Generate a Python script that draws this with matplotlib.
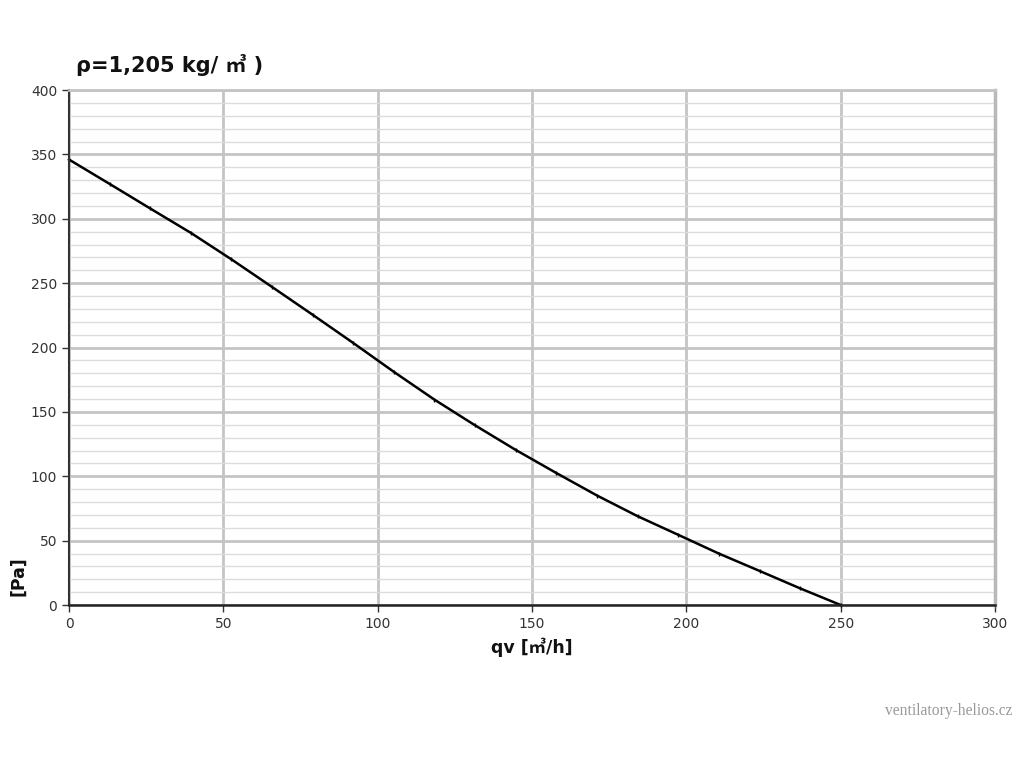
import numpy as np
import matplotlib.pyplot as plt
from matplotlib.ticker import MultipleLocator

# Fan curve (points at the small marks on the line)
qv = [0, 13.2, 26.3, 39.5, 52.6, 65.8, 78.9, 92.1, 105.3, 118.4,
      131.6, 144.7, 157.9, 171.1, 184.2, 197.4, 210.5, 223.7, 236.8, 250]
pa = [346, 327, 308, 289, 268.5, 247, 225.5, 203.5, 181, 159.5,
      139.5, 120.5, 102.5, 85, 69, 54.5, 40, 26.5, 13, 0]

x_ticks = [0, 50, 100, 150, 200, 250, 300]
y_ticks = [0, 50, 100, 150, 200, 250, 300, 350, 400]

fig = plt.figure(figsize=(10.24, 7.68), dpi=100)
ax = fig.add_axes([0.0674, 0.2122, 0.9043, 0.6706])

# Grid
ax.set_xlim(0, 300)
ax.set_ylim(0, 400)
ax.set_xticks(x_ticks)
ax.set_yticks(y_ticks)
ax.yaxis.set_minor_locator(MultipleLocator(10))
ax.grid(which='major', color='#c4c4c4', linewidth=2)
ax.grid(which='minor', axis='y', color='#dcdcdc', linewidth=1)
ax.tick_params(which='minor', length=0)
ax.tick_params(which='major', length=5, width=1, color='#333333',
               labelsize=10, labelcolor='#333333', direction='out')
ax.set_axisbelow(True)

# Spines
ax.spines['left'].set_color('#333333')
ax.spines['left'].set_linewidth(1.5)
ax.spines['bottom'].set_color('#222222')
ax.spines['bottom'].set_linewidth(1.8)
ax.spines['top'].set_color('#c4c4c4')
ax.spines['top'].set_linewidth(2)
ax.spines['right'].set_color('#b8b8b8')
ax.spines['right'].set_linewidth(2.5)

# Curve
ax.plot(qv, pa, color='black', linewidth=1.8, marker='|', markersize=3,
        markeredgewidth=1, clip_on=False)

fam = ['DejaVu Sans', 'Noto Sans CJK JP']
fig.text(0.074, 0.915, 'ρ=1,205 kg/ ㎥ )', fontsize=15, fontweight='bold',
         family=fam, color='#111111', va='center')
ax.set_xlabel('qv [㎥/h]', fontsize=12.5, fontweight='bold', family=fam,
              color='#111111', labelpad=5)
fig.text(0.018, 0.25, '[Pa]', fontsize=12.5, fontweight='bold', rotation=90,
         family=fam, color='#111111', va='center', ha='center')

fig.text(0.926, 0.074, 'ventilatory-helios.cz', fontsize=11.2, color='#999999',
         family='Liberation Serif', ha='center', va='center')

fig.savefig('out.png', dpi=100)
